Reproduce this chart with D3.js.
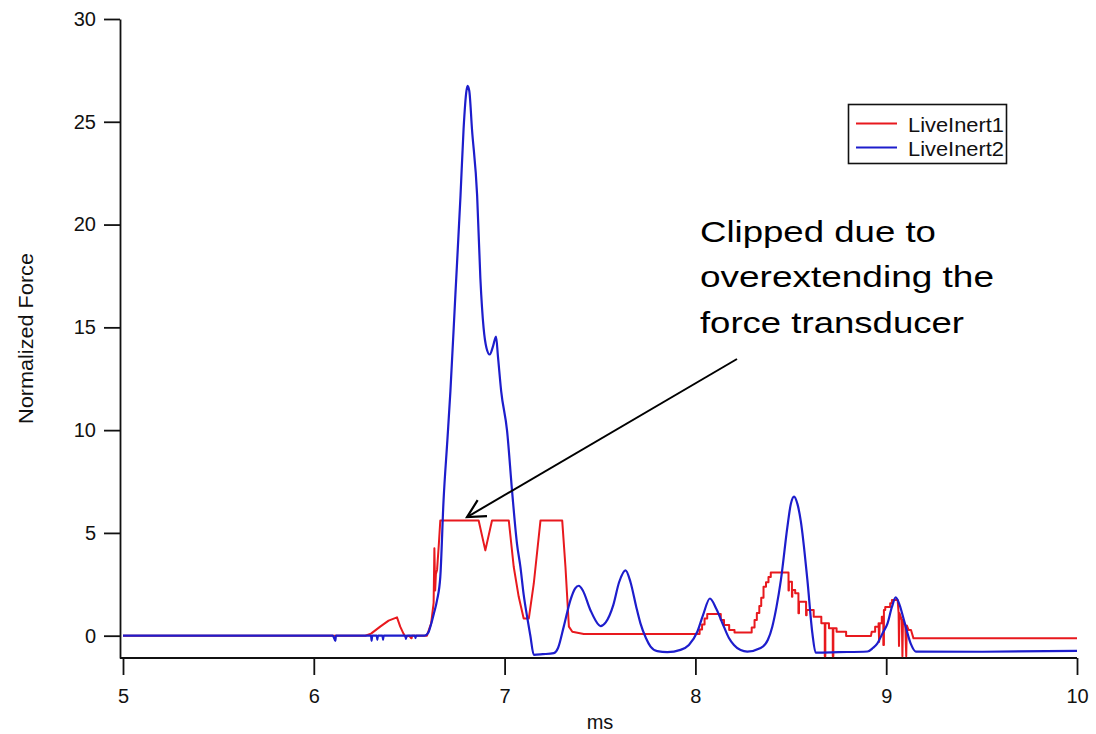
<!DOCTYPE html>
<html>
<head>
<meta charset="utf-8">
<script src="https://cdn.jsdelivr.net/npm/d3@7"></script>
<style>
  html, body { margin: 0; padding: 0; background: #fff; }
  svg { display: block; font-family: "Liberation Sans", Arial, sans-serif; }
</style>
</head>
<body>
<svg id="chart" width="1096" height="734"></svg>
<script>
// ---------------- DATA ----------------
const xTicks = [5, 6, 7, 8, 9, 10];
const yTicks = [0, 5, 10, 15, 20, 25, 30];
const xLabel = "ms";
const yLabel = "Normalized Force";
const seriesNames = ["LiveInert1", "LiveInert2"];

// LiveInert1 (red) : time in ms
const red_t = [5.00, 6.27, 6.30, 6.348, 6.392, 6.436, 6.453, 6.47, 6.48, 6.50, 6.51, 6.513, 6.515, 6.593,
  6.615, 6.628, 6.632, 6.636, 6.64, 6.646, 6.655, 6.663, 6.864, 6.899, 6.934, 7.022, 7.048, 7.074, 7.10, 7.127,
  7.153, 7.188, 7.302, 7.319, 7.337, 7.355, 7.415, 8.018,
  8.022, 8.022, 8.035, 8.035, 8.048, 8.048, 8.062, 8.062, 8.133, 8.133, 8.15, 8.15, 8.177, 8.177, 8.205, 8.205, 8.29,
  8.295, 8.295, 8.31, 8.31, 8.322, 8.322, 8.335, 8.335, 8.345, 8.345, 8.357, 8.357, 8.37, 8.37, 8.383, 8.383, 8.395, 8.395,
  8.488, 8.488, 8.490, 8.490, 8.506, 8.506, 8.508, 8.508, 8.523, 8.523, 8.54, 8.54, 8.543, 8.543, 8.58, 8.58, 8.583, 8.583,
  8.62, 8.62, 8.66, 8.66, 8.678, 8.678, 8.681, 8.681, 8.70, 8.70, 8.72, 8.72, 8.723, 8.723, 8.74, 8.74, 8.79, 8.79,
  8.92, 8.924, 8.942, 8.942, 8.96, 8.96, 8.963, 8.966, 8.977, 8.977, 8.985, 8.985, 8.988, 8.988, 8.995, 8.995,
  9.021, 9.021, 9.03, 9.03, 9.06, 9.065, 9.067, 9.07, 9.082, 9.085, 9.088, 9.10, 9.105, 9.108, 9.117, 9.13, 9.143, 10.0];
const red_v = [0, 0, 0.1, 0.44, 0.73, 0.89, 0.44, 0.1, -0.05, 0.0, -0.12, -0.12, 0, 0,
  0.6, 1.6, 4.25, 2.2, 3.0, 3.2, 4.4, 5.6, 5.6, 4.15, 5.6, 5.6, 3.34, 1.89, 0.84, 0.84,
  2.54, 5.6, 5.6, 3.34, 0.44, 0.19, 0.08, 0.08,
  0.08, 0.3, 0.3, 0.55, 0.55, 0.84, 0.84, 1.05, 1.05, 0.76, 0.76, 0.52, 0.52, 0.28, 0.28, 0.15, 0.15,
  0.15, 0.4, 0.4, 0.76, 0.76, 1.1, 1.1, 1.45, 1.45, 1.85, 1.85, 2.38, 2.38, 2.6, 2.6, 2.85, 2.85, 3.07,
  3.07, 2.2, 2.2, 2.63, 2.63, 1.9, 1.9, 2.22, 2.22, 2.06, 2.06, 1.09, 1.09, 1.65, 1.65, 1.0, 1.0, 1.25,
  1.25, 0.92, 0.92, 0.6, 0.6, -1.0, -1.0, 0.6, 0.6, 0.36, 0.36, -1.0, -1.0, 0.36, 0.36, 0.19, 0.19, -0.02,
  -0.02, 0.19, 0.19, 0.44, 0.44, 0.6, -0.3, 0.6, 0.6, 0.92, 0.92, -0.45, -0.45, 1.25, 1.25, 1.4,
  1.4, 1.58, 1.58, 1.74, 1.74, 1.09, -0.5, 1.09, 0.76, -1.0, 0.76, 0.5, -1.0, 0.5, 0.28, 0.28, -0.13, -0.13];

// LiveInert2 (blue)
const blue_t = [5.00, 6.10, 6.113, 6.116, 6.30, 6.303, 6.306, 6.33, 6.333, 6.336, 6.36, 6.363, 6.366, 6.48, 6.483, 6.486,
  6.53, 6.533, 6.536, 6.58, 6.60, 6.611, 6.63, 6.646, 6.663, 6.68, 6.70, 6.716, 6.742, 6.769, 6.785, 6.80, 6.806,
  6.815, 6.829, 6.856, 6.873, 6.890, 6.905, 6.922, 6.94, 6.955, 6.965, 6.982, 7.013, 7.039, 7.065, 7.083, 7.10,
  7.118, 7.135, 7.153, 7.20, 7.258, 7.28, 7.31, 7.345, 7.37, 7.389, 7.41, 7.45, 7.494, 7.503, 7.53, 7.57, 7.60,
  7.634, 7.66, 7.69, 7.712, 7.74, 7.765, 7.80, 7.853, 7.922, 7.966, 8.01, 8.04, 8.076, 8.11, 8.149, 8.175, 8.202,
  8.237, 8.272, 8.342, 8.38, 8.403, 8.425, 8.448, 8.482, 8.50, 8.517, 8.535, 8.552, 8.587, 8.613, 8.63, 8.75,
  8.902, 8.93, 8.954, 8.98, 9.007, 9.03, 9.05, 9.07, 9.093, 9.128, 9.155, 9.5, 10.0];
const blue_v = [0, 0, -0.25, 0, 0, -0.25, 0, 0, -0.2, 0, 0, -0.2, 0, 0, -0.15, 0,
  0, -0.12, 0, 0, 0.15, 0.44, 1.1, 1.73, 2.86, 6.57, 9.5, 11.9, 16.58, 21.42, 24.65, 26.5, 26.75,
  26.5, 24.65, 21.42, 17.39, 14.96, 14.0, 13.68, 14.1, 14.55, 13.6, 11.9, 9.96, 7.06, 4.47, 3.34, 2.0,
  0.92, 0, -0.93, -0.9, -0.85, -0.6, 0.44, 1.73, 2.3, 2.43, 2.2, 1.24, 0.52, 0.47, 0.65, 1.5, 2.6,
  3.18, 2.6, 1.4, 0.6, -0.1, -0.53, -0.75, -0.80, -0.69, -0.45, 0.19, 1.0, 1.81, 1.3, 0.44, -0.1, -0.45,
  -0.7, -0.77, -0.6, -0.2, 0.44, 1.4, 2.7, 5.28, 6.4, 6.77, 6.4, 5.6, 2.7, 0.12, -0.82, -0.8,
  -0.77, -0.6, -0.37, 0.1, 0.6, 1.4, 1.86, 1.5, 0.76, -0.37, -0.77, -0.78, -0.74];

// annotation (data coordinates)
const noteLines = ["Clipped due to", "overextending the", "force transducer"];
const noteAnchor = { t: 8.024, v: 19.17 };   // first line baseline
const arrowFrom = { t: 8.218, v: 13.46 };
const arrowTo = { t: 6.803, v: 5.77 };

// ---------------- CHART ----------------
const svg = d3.select("#chart");
const colors = ["#e8191e", "#1d1dcc"];

const x = d3.scaleLinear().domain([5, 10]).range([123, 1077]);
const y = d3.scaleLinear().domain([-1.085, 30]).range([658, 19]);

const axisColor = "#111";

// Y axis
const gy = svg.append("g")
  .attr("transform", "translate(120,0)")
  .call(d3.axisLeft(y).tickValues(yTicks).tickSize(16).tickSizeOuter(0).tickPadding(8));
gy.select(".domain").attr("stroke", axisColor).attr("stroke-width", 1.8);
gy.selectAll(".tick line").attr("stroke", axisColor).attr("stroke-width", 1.8);
gy.selectAll(".tick text").attr("font-size", 20).attr("fill", "#111")
  .attr("font-family", "Liberation Sans, Arial, sans-serif");

// X axis
const gx = svg.append("g")
  .attr("transform", `translate(0,${y.range()[0]})`)
  .call(d3.axisBottom(x).tickValues(xTicks).tickFormat(d3.format("d")).tickSize(17).tickSizeOuter(0).tickPadding(14));
gx.select(".domain").remove();
gx.append("line")
  .attr("x1", 120).attr("x2", x.range()[1])
  .attr("y1", 0).attr("y2", 0)
  .attr("stroke", axisColor).attr("stroke-width", 1.8);
gx.selectAll(".tick line").attr("stroke", axisColor).attr("stroke-width", 1.8);
gx.selectAll(".tick text").attr("font-size", 20).attr("fill", "#111")
  .attr("font-family", "Liberation Sans, Arial, sans-serif");

// Axis labels
svg.append("text")
  .attr("x", (x.range()[0] + x.range()[1]) / 2)
  .attr("y", 729)
  .attr("text-anchor", "middle")
  .attr("font-size", 20)
  .attr("fill", "#111")
  .text(xLabel);

svg.append("text")
  .attr("transform", `translate(33,${(y.range()[0] + y.range()[1]) / 2}) rotate(-90)`)
  .attr("text-anchor", "middle")
  .attr("font-size", 20)
  .attr("fill", "#111")
  .attr("textLength", 171)
  .attr("lengthAdjust", "spacingAndGlyphs")
  .text(yLabel);

// Lines
const line = d3.line().x(d => x(d[0])).y(d => y(d[1]));
const redData = red_t.map((t, i) => [t, red_v[i]]);
const blueData = blue_t.map((t, i) => [t, blue_v[i]]);

svg.append("path").datum(redData)
  .attr("d", line).attr("fill", "none")
  .attr("stroke", colors[0]).attr("stroke-width", 2).attr("stroke-linejoin", "round");
svg.append("path").datum(blueData)
  .attr("d", d3.line().curve(d3.curveMonotoneX).x(d => x(d[0])).y(d => y(d[1])))
  .attr("fill", "none")
  .attr("stroke", colors[1]).attr("stroke-width", 2.2).attr("stroke-linejoin", "round");

// Legend
const lg = svg.append("g");
lg.append("rect").attr("x", 848.5).attr("y", 104.5).attr("width", 158).attr("height", 59)
  .attr("fill", "#fff").attr("stroke", "#111").attr("stroke-width", 1.6);
seriesNames.forEach((name, i) => {
  const yy = 123.5 + i * 24;
  lg.append("line").attr("x1", 856).attr("x2", 897).attr("y1", yy).attr("y2", yy)
    .attr("stroke", colors[i]).attr("stroke-width", 2);
  lg.append("text").attr("x", 908).attr("y", yy + 8)
    .attr("font-size", 20).attr("fill", "#111")
    .attr("textLength", 96).attr("lengthAdjust", "spacingAndGlyphs")
    .text(name);
});

// Annotation
const noteLengths = [236, 294, 264];
noteLines.forEach((s, i) => {
  svg.append("text")
    .attr("x", x(noteAnchor.t))
    .attr("y", y(noteAnchor.v) + i * 45.8)
    .attr("font-size", 30)
    .attr("fill", "#000")
    .attr("textLength", noteLengths[i])
    .attr("lengthAdjust", "spacingAndGlyphs")
    .text(s);
});

const ax1 = x(arrowFrom.t), ay1 = y(arrowFrom.v), ax2 = x(arrowTo.t), ay2 = y(arrowTo.v);
svg.append("line").attr("x1", ax1).attr("y1", ay1).attr("x2", ax2).attr("y2", ay2)
  .attr("stroke", "#000").attr("stroke-width", 2);
const ang = Math.atan2(ay1 - ay2, ax1 - ax2);
const headLen = 20, spread = 0.48;
const p1 = [ax2 + headLen * Math.cos(ang - spread), ay2 + headLen * Math.sin(ang - spread)];
const p2 = [ax2 + headLen * Math.cos(ang + spread), ay2 + headLen * Math.sin(ang + spread)];
svg.append("path")
  .attr("d", `M${p1[0]},${p1[1]}L${ax2},${ay2}L${p2[0]},${p2[1]}`)
  .attr("fill", "none").attr("stroke", "#000").attr("stroke-width", 2.2);
</script>
</body>
</html>
